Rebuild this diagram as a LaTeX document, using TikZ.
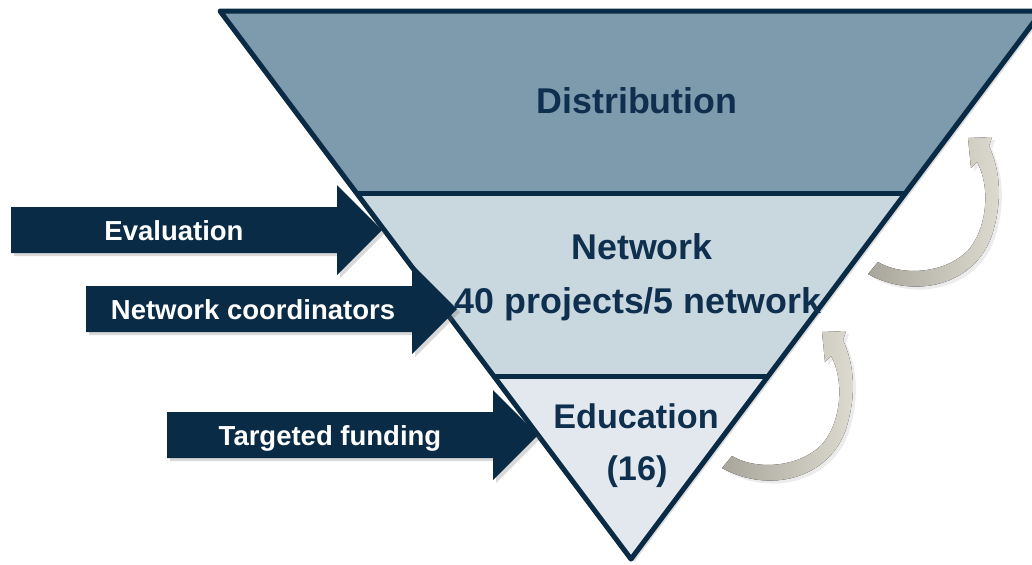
\documentclass[tikz,border=0pt]{standalone}
\usepackage{fontspec}
\setmainfont{Liberation Sans}
\usepackage{xcolor}
\usetikzlibrary{shadows}
\definecolor{navy}{HTML}{0A2B45}
\definecolor{navytext}{HTML}{0E2F4D}
\definecolor{distfill}{HTML}{7E9BAE}
\definecolor{netfill}{HTML}{C9D7DF}
\definecolor{edufill}{HTML}{E2E8EE}
\definecolor{turndark}{HTML}{A8A59A}
\definecolor{turnlight}{HTML}{DEDCD1}
\tikzset{outline/.style={draw=navy, line width=2.5pt, line join=round},
    softshadow/.style={drop shadow={shadow xshift=1.5pt, shadow yshift=-1.5pt, opacity=0.25, fill=black!60}},
    inarrow/.style={fill=navy, softshadow},
    turnarrow/.style={left color=turndark, right color=turnlight,
        drop shadow={shadow xshift=1.5pt, shadow yshift=-1.5pt, opacity=0.15, fill=black!50}},
    lbl/.style={text=white, anchor=base, font=\bfseries\fontsize{13.75}{16}\selectfont},
    stage/.style={text=navytext, anchor=base, font=\bfseries\fontsize{17.9}{21}\selectfont}}

\begin{document}
\begin{tikzpicture}[x=0.5pt, y=-0.5pt]
    % Definition of the funnel and its bands
    \def\funnel{(220,11) -- (1042,11) -- (631,559) -- cycle}
    \def\distband{(220,11) -- (1042,11) -- (905.5,193) -- (356.5,193) -- cycle}
    \def\netband{(356.5,193) -- (905.5,193) -- (768.25,376) -- (493.75,376) -- cycle}
    \def\eduband{(493.75,376) -- (768.25,376) -- (631,559) -- cycle}
    % straight arrow, started from the middle of its tail
    \def\inpath{-- ++(0,-23) -- ++(326,0) -- ++(0,-22) -- ++(45,45) -- ++(-45,45) -- ++(0,-22) -- ++(-326,0) -- cycle}
    % curved arrow beside the funnel
    \def\turnpath{(868,274) .. controls (915,300) and (975,285) .. (992,235)
        .. controls (1003,200) and (1000,170) .. (989,146) -- (992,137) -- (968,138)
        -- (971,168) -- (977,162) .. controls (990,185) and (988,225) .. (970,248)
        .. controls (950,272) and (905,278) .. (878,262) -- cycle}
    %
    \useasboundingbox (0,0) rectangle (1032,564);
    \clip (0,0) rectangle (1032,564);
    %
    \fill[white, softshadow] \funnel;
    \fill[distfill] \distband;
    \fill[netfill] \netband;
    \fill[edufill] \eduband;
    \coordinate (dl) at (356.5,193);
    \coordinate (dr) at (905.5,193);
    \coordinate (el) at (493.75,376);
    \coordinate (er) at (768.25,376);
    \draw[outline] (dl) -- (dr);
    \draw[outline] (el) -- (er);
    \draw[outline] \funnel;
    %
    \node[stage] (dist) at (637,113) {Distribution};
    \node[stage] (net) at (642,259) {Network};
    \node[stage] (netproj) at (638,313) {40 projects/5 network};
    \node[stage, font=\bfseries\fontsize{17.1}{20}\selectfont] (edu) at (636,428) {Education};
    \node[stage, font=\bfseries\fontsize{17.1}{20}\selectfont] (edunum) at (637,480) {(16)};
    %
    \fill[turnarrow] \turnpath;
    \begin{scope}[shift={(-146,194)}]
    \fill[turnarrow] \turnpath;
    \end{scope}
    %
    \fill[inarrow] (11,230) \inpath;
    \fill[inarrow] (86,309) \inpath;
    \fill[inarrow] (167,435) \inpath;
    \node[lbl] (eval) at (174,240) {Evaluation};
    \node[lbl] (coord) at (253,319) {Network coordinators};
    \node[lbl] (fund) at (330,445) {Targeted funding};
\end{tikzpicture}
\end{document}
